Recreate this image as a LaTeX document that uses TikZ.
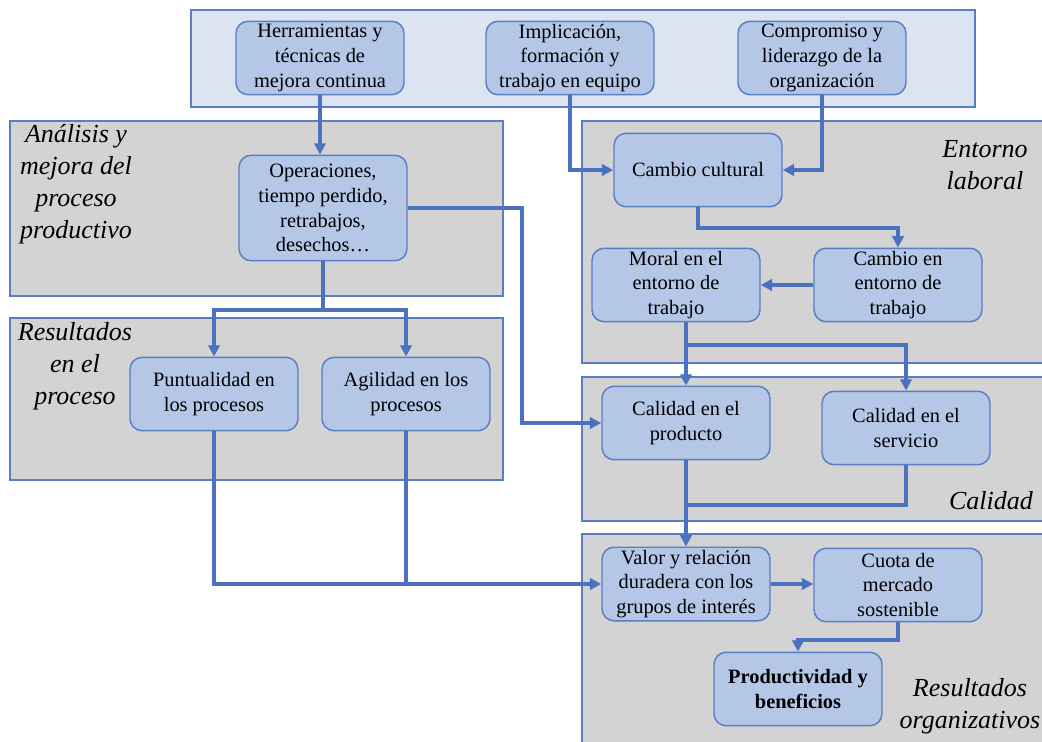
\documentclass[tikz,border=0pt]{standalone}
\usepackage{fontspec}
\setmainfont{Liberation Serif}
\usetikzlibrary{arrows.meta}

\definecolor{linkblue}{HTML}{4A72C0}
\definecolor{boxfill}{HTML}{B4C7E7}
\definecolor{boxline}{HTML}{5A7EC4}
\definecolor{panelgray}{HTML}{D3D3D4}
\definecolor{bandfill}{HTML}{DCE4F2}

\tikzset{
  panel/.style={draw=boxline, line width=1.1pt, fill=panelgray},
  band/.style={draw=boxline, line width=1.1pt, fill=bandfill},
  stagebox/.style={draw=boxline, line width=1.1pt, fill=boxfill, rounded corners=9pt,
    minimum width=126pt, minimum height=55pt, align=center, inner sep=2pt,
    font=\fontsize{15.3}{18.6}\selectfont},
  paneltitle/.style={font=\fontsize{19.5}{24}\selectfont\itshape, align=center, inner sep=0pt},
  link/.style={draw=linkblue, line width=2.6pt},
  flow/.style={link, -{Triangle[length=8.5pt,width=8.5pt]}},
}

\begin{document}
\begin{tikzpicture}[x=0.75pt, y=-0.75pt]
\useasboundingbox (0,0) rectangle (1042,742);
\fill[white] (0,0) rectangle (1042,742);

% background panels
\draw[band]  (191,10)  rectangle (975,107);
\draw[panel] (10,121)  rectangle (503,296);
\draw[panel] (10,318)  rectangle (503,480);
\draw[panel] (582,121) rectangle (1048,363);
\draw[panel] (582,377) rectangle (1048,521);
\draw[panel] (582,534) rectangle (1048,750);

% panel titles
\node[paneltitle] (tanal) at (76,184) {Análisis y\\mejora del\\proceso\\productivo};
\node[paneltitle] (tresp) at (75,366) {Resultados\\en el\\proceso};
\node[paneltitle] (tent)  at (985,165) {Entorno\\laboral};
\node[paneltitle] (tcal)  at (991,501) {Calidad};
\node[paneltitle] (tres)  at (970,706) {Resultados\\organizativos};

% stages
\node[stagebox] (herr)  at (320,58)  {Herramientas y\\técnicas de\\mejora continua};
\node[stagebox] (impl)  at (570,58)  {Implicación,\\formación y\\trabajo en equipo};
\node[stagebox] (comp)  at (822,58)  {Compromiso y\\liderazgo de la\\organización};
\node[stagebox, minimum height=79pt] (oper) at (323,208) {Operaciones,\\tiempo perdido,\\retrabajos,\\desechos\dots};
\node[stagebox] (cult)  at (698,170) {Cambio cultural};
\node[stagebox] (moral) at (676,285) {Moral en el\\entorno de\\trabajo};
\node[stagebox] (cenv)  at (898,285) {Cambio en\\entorno de\\trabajo};
\node[stagebox] (punt)  at (214,394) {Puntualidad en\\los procesos};
\node[stagebox] (agil)  at (406,394) {Agilidad en los\\procesos};
\node[stagebox] (cprod) at (686,423) {Calidad en el\\producto};
\node[stagebox] (cserv) at (906,428) {Calidad en el\\servicio};
\node[stagebox] (valor) at (686,584) {Valor y relación\\duradera con los\\grupos de interés};
\node[stagebox] (cuota) at (898,585) {Cuota de\\mercado\\sostenible};
\node[stagebox, font=\fontsize{15.3}{18.6}\selectfont\bfseries] (prod) at (798,689) {Productividad y\\beneficios};

% routing points
\coordinate (opx)   at (522,0);
\coordinate (split) at (0,310);
\coordinate (cultd) at (0,228);
\coordinate (morad) at (0,345);
\coordinate (servd) at (0,505);
\coordinate (cuod)  at (0,640);

% connectors
\draw[flow] (herr.south) -- (herr.south |- oper.north);
\draw[flow] (impl.south) |- (cult.west);
\draw[flow] (comp.south) |- (cult.east);
\draw[flow] (oper.east) -- (oper.east -| opx) |- (cprod.west);
\draw[link] (oper.south) -- (oper.south |- split);
\draw[flow] (oper.south |- split) -| (punt.north);
\draw[flow] (oper.south |- split) -| (agil.north);
\draw[flow] (cult.south) -- (cult.south |- cultd) -| (cenv.north);
\draw[flow] (cenv.west) -- (moral.east);
\draw[flow] (cprod.north |- moral.south) -- (cprod.north);
\draw[flow] (cprod.north |- morad) -| (cserv.north);
\draw[flow] (cprod.south) -- (valor.north);
\draw[link] (cserv.south) |- (cprod.south |- servd);
\draw[flow] (punt.south) |- (valor.west);
\draw[link] (agil.south) -- (agil.south |- valor.west);
\draw[flow] (valor.east) -- (cuota.west |- valor.east);
\draw[flow] (cuota.south) -- (cuota.south |- cuod) -| (prod.north);
\end{tikzpicture}
\end{document}
